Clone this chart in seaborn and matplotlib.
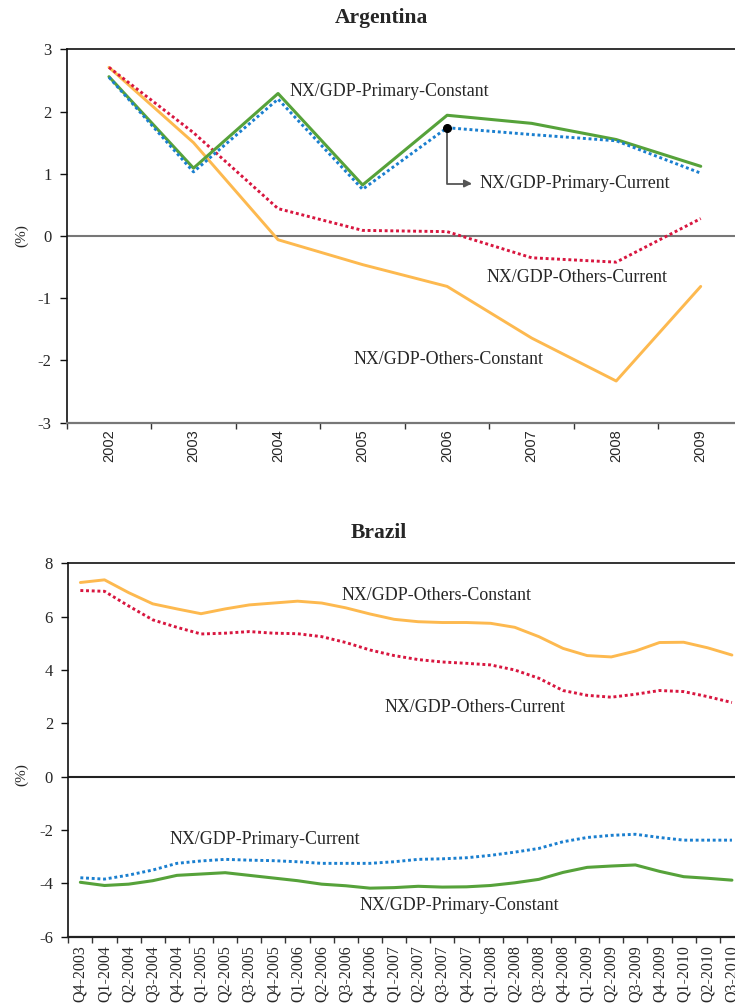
import numpy as np
import pandas as pd
import matplotlib
matplotlib.use("Agg")
import matplotlib.pyplot as plt
import seaborn as sns

# ---------------- data ----------------
arg_years = ["2002", "2003", "2004", "2005", "2006", "2007", "2008", "2009"]
arg_primary_constant = [2.56, 1.09, 2.29, 0.82, 1.94, 1.81, 1.55, 1.12]
arg_primary_current = [2.55, 1.03, 2.20, 0.75, 1.74, 1.63, 1.53, 1.01]
arg_others_current = [2.71, 1.66, 0.44, 0.09, 0.07, -0.35, -0.42, 0.28]
arg_others_constant = [2.71, 1.50, -0.06, -0.46, -0.81, -1.64, -2.33, -0.81]

bra_quarters = ["Q4-2003",
                "Q1-2004", "Q2-2004", "Q3-2004", "Q4-2004",
                "Q1-2005", "Q2-2005", "Q3-2005", "Q4-2005",
                "Q1-2006", "Q2-2006", "Q3-2006", "Q4-2006",
                "Q1-2007", "Q2-2007", "Q3-2007", "Q4-2007",
                "Q1-2008", "Q2-2008", "Q3-2008", "Q4-2008",
                "Q1-2009", "Q2-2009", "Q3-2009", "Q4-2009",
                "Q1-2010", "Q2-2010", "Q3-2010"]
bra_others_constant = [7.28, 7.38, 6.90, 6.48, 6.29, 6.11, 6.29, 6.44, 6.51, 6.58,
                       6.51, 6.33, 6.10, 5.90, 5.81, 5.78, 5.78, 5.75, 5.60, 5.25,
                       4.81, 4.54, 4.49, 4.71, 5.03, 5.04, 4.83, 4.56]
bra_others_current = [6.98, 6.95, 6.40, 5.88, 5.60, 5.35, 5.38, 5.44, 5.38, 5.36,
                      5.25, 5.03, 4.75, 4.54, 4.39, 4.30, 4.25, 4.19, 4.00, 3.69,
                      3.23, 3.05, 2.98, 3.09, 3.23, 3.19, 3.00, 2.78]
bra_primary_current = [-3.79, -3.84, -3.69, -3.50, -3.25, -3.16, -3.10, -3.13, -3.15, -3.19,
                       -3.25, -3.25, -3.25, -3.19, -3.10, -3.08, -3.04, -2.95, -2.83, -2.69,
                       -2.44, -2.28, -2.20, -2.16, -2.28, -2.38, -2.38, -2.38]
bra_primary_constant = [-3.96, -4.08, -4.03, -3.90, -3.70, -3.65, -3.60, -3.70, -3.80, -3.90,
                        -4.03, -4.09, -4.18, -4.16, -4.11, -4.14, -4.13, -4.08, -3.98, -3.85,
                        -3.59, -3.40, -3.35, -3.31, -3.55, -3.75, -3.81, -3.88]

label_pc = "NX/GDP-Primary-Constant"
label_pcu = "NX/GDP-Primary-Current"
label_oc = "NX/GDP-Others-Current"
label_oco = "NX/GDP-Others-Constant"

# ---------------- style ----------------
sns.set_theme(style="white")
plt.rcParams["font.family"] = ["Liberation Serif", "DejaVu Serif"]

C_GREEN = "#56a23a"
C_BLUE = "#1a7fcf"
C_RED = "#d8163f"
C_ORANGE = "#fdb94f"

W, H = 735, 1006
fig = plt.figure(figsize=(W / 100, H / 100), dpi=100)


def fx(px):
    return px / W


def fy(py):
    return 1 - py / H


def make_df(cats, series):
    d = {"pos": np.arange(len(cats))}
    d.update(series)
    return pd.DataFrame(d)


def draw(ax, df, col, color, dotted, lw):
    if dotted:
        sns.lineplot(data=df, x="pos", y=col, ax=ax, color=color, lw=lw,
                     linestyle=(0, (1.0, 0.95)), dash_capstyle="butt")
    else:
        sns.lineplot(data=df, x="pos", y=col, ax=ax, color=color, lw=lw)


def style_axes(ax, ncat, cats, ylo, yhi, ystep, xfont, xsize, zero_color, bottom_color, xpad):
    ax.set_xlim(-0.5, ncat - 0.5)
    ax.set_ylim(ylo, yhi)
    ax.set_xticks(np.arange(ncat))
    ax.set_xticklabels(cats, rotation=90, fontsize=xsize, family=xfont)
    ax.set_xticks(np.arange(-0.5, ncat + 0.5, 1.0), minor=True)
    ax.tick_params(axis="x", which="major", length=0, pad=xpad)
    ax.tick_params(axis="x", which="minor", length=4, width=1, color="#333333",
                   direction="out", bottom=True)
    yt = np.arange(ylo, yhi + ystep / 2, ystep)
    ax.set_yticks(yt)
    ax.set_yticklabels([f"{int(v)}" for v in yt], fontsize=12)
    ax.tick_params(axis="y", which="major", length=5, width=1, color="#111111",
                   direction="out", left=True, pad=6)
    ax.set_xlabel("")
    ax.set_ylabel("")
    for s in ["top", "left"]:
        ax.spines[s].set_color("#111111")
        ax.spines[s].set_linewidth(1.2)
    ax.spines["bottom"].set_color(bottom_color)
    ax.spines["bottom"].set_linewidth(1.6)
    ax.spines["right"].set_visible(False)
    ax.axhline(0, color=zero_color, lw=1.5, zorder=1)
    ax.grid(False)


# ---------------- Argentina ----------------
ax1 = fig.add_axes([fx(66.7), fy(422.7), (743 - 66.7) / W, (422.7 - 49.3) / H])
df_arg = make_df(arg_years, {
    "pc": arg_primary_constant, "pcu": arg_primary_current,
    "oc": arg_others_current, "oco": arg_others_constant})
draw(ax1, df_arg, "oco", C_ORANGE, False, 2.1)
draw(ax1, df_arg, "oc", C_RED, True, 2.1)
draw(ax1, df_arg, "pc", C_GREEN, False, 2.2)
draw(ax1, df_arg, "pcu", C_BLUE, True, 2.1)
style_axes(ax1, len(arg_years), arg_years, -3, 3, 1, "Liberation Sans", 10.5,
           "#777777", "#777777", 5)

# marker + elbow arrow to the Primary-Current label
ax1.plot([df_arg["pos"][4]], [df_arg["pcu"][4]], "o", color="black", ms=5.5, zorder=6)
ax1.annotate("", xy=(fx(472), fy(183.5)), xycoords="figure fraction",
             xytext=(df_arg["pos"][4], df_arg["pcu"][4]), textcoords="data",
             arrowprops=dict(arrowstyle="-|>", color="#555555", lw=1.3,
                             mutation_scale=11, shrinkA=0, shrinkB=0,
                             connectionstyle="angle,angleA=90,angleB=0,rad=0"))

fig.text(fx(381), fy(18), "Argentina", ha="center", va="center",
         fontsize=15.5, fontweight="bold")
fig.text(fx(22), fy(236), "(%)", rotation=90, ha="center", va="center", fontsize=11)
ann_kw = dict(ha="left", va="center", fontsize=12.9)
fig.text(fx(289), fy(91), label_pc, **ann_kw)
fig.text(fx(479), fy(184), label_pcu, **ann_kw)
fig.text(fx(486), fy(278), label_oc, **ann_kw)
fig.text(fx(354), fy(360), label_oco, **ann_kw)

# ---------------- Brazil ----------------
ax2 = fig.add_axes([fx(68.3), fy(936.7), (744 - 68.3) / W, (936.7 - 563.3) / H])
df_bra = make_df(bra_quarters, {
    "pc": bra_primary_constant, "pcu": bra_primary_current,
    "oc": bra_others_current, "oco": bra_others_constant})
draw(ax2, df_bra, "oco", C_ORANGE, False, 2.1)
draw(ax2, df_bra, "oc", C_RED, True, 2.1)
draw(ax2, df_bra, "pc", C_GREEN, False, 2.2)
draw(ax2, df_bra, "pcu", C_BLUE, True, 2.1)
style_axes(ax2, len(bra_quarters), bra_quarters, -6, 8, 2, "Liberation Serif", 11.5,
           "#222222", "#222222", 6)

fig.text(fx(379), fy(533), "Brazil", ha="center", va="center",
         fontsize=15.5, fontweight="bold")
fig.text(fx(22), fy(775), "(%)", rotation=90, ha="center", va="center", fontsize=11)
fig.text(fx(341), fy(596), label_oco, **ann_kw)
fig.text(fx(384), fy(707), label_oc, **ann_kw)
fig.text(fx(169), fy(839), label_pcu, **ann_kw)
fig.text(fx(359), fy(906), label_pc, **ann_kw)

fig.savefig("out.png", dpi=100)
